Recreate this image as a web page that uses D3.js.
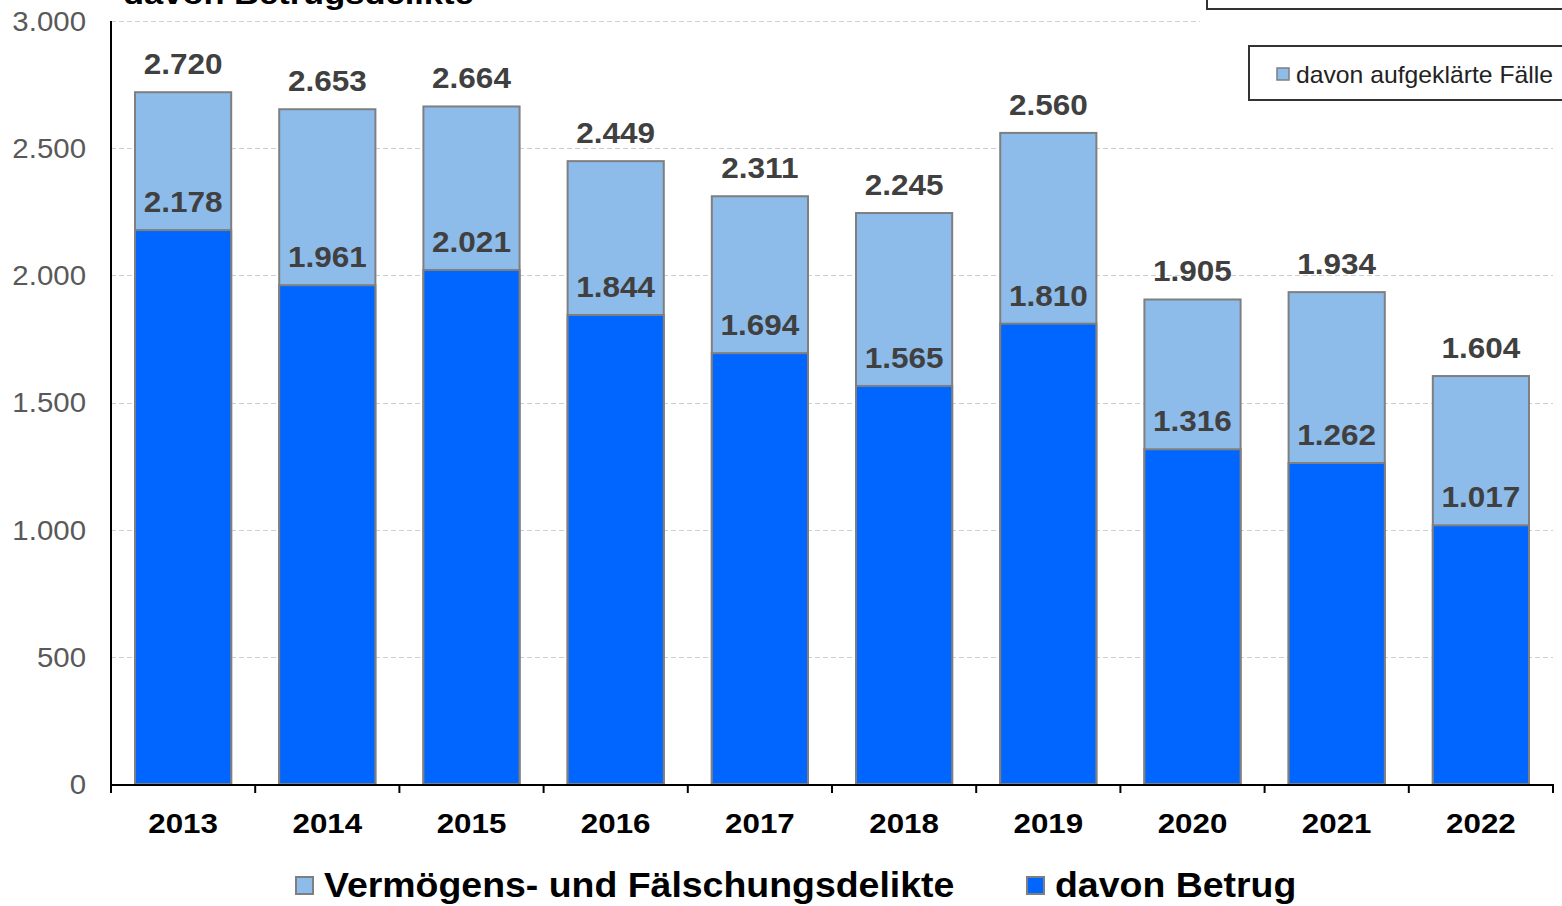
<!DOCTYPE html>
<html><head><meta charset="utf-8">
<script src="https://cdn.jsdelivr.net/npm/d3@7"></script>
<style>body{margin:0;background:#fff}svg{display:block;font-family:"Liberation Sans",Arial,sans-serif}</style>
</head><body><svg id="c" width="1562" height="906"></svg>
<script>
const years = ["2013","2014","2015","2016","2017","2018","2019","2020","2021","2022"];
const totalCases = [2720,2653,2664,2449,2311,2245,2560,1905,1934,1604];
const fraudCases = [2178,1961,2021,1844,1694,1565,1810,1316,1262,1017];
const yTicks = [0,500,1000,1500,2000,2500,3000];
const seriesNames = ["Vermögens- und Fälschungsdelikte","davon Betrug"];
const titleText = "davon Betrugsdelikte";
const legendTopText = "davon aufgeklärte Fälle";

const fmt = v => d3.format(",")(v).replace(/,/g,".");
const svg = d3.select("#c");
const L=111, R=1553, T=21, B=784;
const x = d3.scaleBand().domain(years).range([L,R]).paddingInner(0.333).paddingOuter(0.1665);
const y = d3.scaleLinear().domain([0,3000]).range([B,T]);
const cLight="#8DBBEA", cDark="#0066FF", cStroke="#7f7f7f";
const stretch = (sel, sx, ax) => sel.attr("transform", function(d,i){ const a = ax(d,i); return `translate(${a},0) scale(${sx},1) translate(${-a},0)`; });

// title (cut off)
stretch(svg.append("text").attr("x",123).attr("y",4).attr("font-size",30).attr("font-weight","bold").attr("fill","#000").text(titleText), 1.15, ()=>123);
// top-right box (cut off)
svg.append("rect").attr("x",1207).attr("y",-40).attr("width",400).attr("height",49).attr("fill","#fff").attr("stroke","#333").attr("stroke-width",2);

// grid
svg.append("g").selectAll("line").data(yTicks.filter(d=>d>0)).join("line")
  .attr("x1",L).attr("x2",d=>d===3000?1200:R).attr("y1",d=>Math.round(y(d))+0.5).attr("y2",d=>Math.round(y(d))+0.5)
  .attr("stroke","#cfcfcf").attr("stroke-width",1).attr("stroke-dasharray","5,3");

// y labels
stretch(svg.append("g").selectAll("text").data(yTicks).join("text")
  .attr("x",86).attr("y",d=>y(d)+10).attr("text-anchor","end")
  .attr("font-size",27).attr("fill","#595959").text(fmt), 1.09, ()=>86);

// bars
const bw = x.bandwidth();
svg.append("g").selectAll("rect").data(years).join("rect")
  .attr("x",d=>x(d)).attr("width",bw).attr("y",(d,i)=>y(totalCases[i])).attr("height",(d,i)=>B-y(totalCases[i]))
  .attr("fill",cLight).attr("stroke",cStroke).attr("stroke-width",2);
svg.append("g").selectAll("rect").data(years).join("rect")
  .attr("x",d=>x(d)).attr("width",bw).attr("y",(d,i)=>y(fraudCases[i])).attr("height",(d,i)=>B-y(fraudCases[i]))
  .attr("fill",cDark).attr("stroke",cStroke).attr("stroke-width",2);

// value labels
const lab = (arr)=>stretch(svg.append("g").selectAll("text").data(years).join("text")
  .attr("x",d=>x(d)+bw/2).attr("y",(d,i)=>y(arr[i])-18).attr("text-anchor","middle")
  .attr("font-size",30).attr("font-weight","bold").attr("fill","#404040").text((d,i)=>fmt(arr[i])), 1.05, d=>x(d)+bw/2);
lab(totalCases); lab(fraudCases);

// axes lines
svg.append("line").attr("x1",L).attr("x2",L).attr("y1",T).attr("y2",B+8).attr("stroke","#000").attr("stroke-width",2);
svg.append("line").attr("x1",L).attr("x2",R).attr("y1",B+1).attr("y2",B+1).attr("stroke","#000").attr("stroke-width",2);
const bounds = years.map(d=>x(d)-x.step()*x.paddingInner()/2).concat([R]);
svg.append("g").selectAll("line").data(bounds).join("line")
  .attr("x1",d=>d).attr("x2",d=>d).attr("y1",B).attr("y2",B+9).attr("stroke","#000").attr("stroke-width",2);
stretch(svg.append("g").selectAll("text").data(years).join("text")
  .attr("x",d=>x(d)+bw/2).attr("y",833).attr("text-anchor","middle")
  .attr("font-size",27).attr("font-weight","bold").attr("fill","#000").text(d=>d), 1.16, d=>x(d)+bw/2);

// top-right legend
svg.append("rect").attr("x",1249).attr("y",46).attr("width",330).attr("height",54).attr("fill","#fff").attr("stroke","#333").attr("stroke-width",2);
svg.append("rect").attr("x",1277).attr("y",68).attr("width",12).attr("height",12).attr("fill",cLight).attr("stroke",cStroke).attr("stroke-width",1.5);
svg.append("text").attr("x",1296).attr("y",83).attr("font-size",24).attr("fill","#222")
  .attr("textLength",257).attr("lengthAdjust","spacingAndGlyphs").text(legendTopText);

// bottom legend
const lg = [{x:296,c:cLight,t:seriesNames[0]},{x:1027,c:cDark,t:seriesNames[1]}];
lg.forEach(o=>{
  svg.append("rect").attr("x",o.x).attr("y",877).attr("width",17).attr("height",17).attr("fill",o.c).attr("stroke",cStroke).attr("stroke-width",2);
  stretch(svg.append("text").attr("x",o.x+28).attr("y",897).attr("font-size",35).attr("font-weight","bold").attr("fill","#000").text(o.t), 1.07, ()=>o.x+28);
});
</script></body></html>
